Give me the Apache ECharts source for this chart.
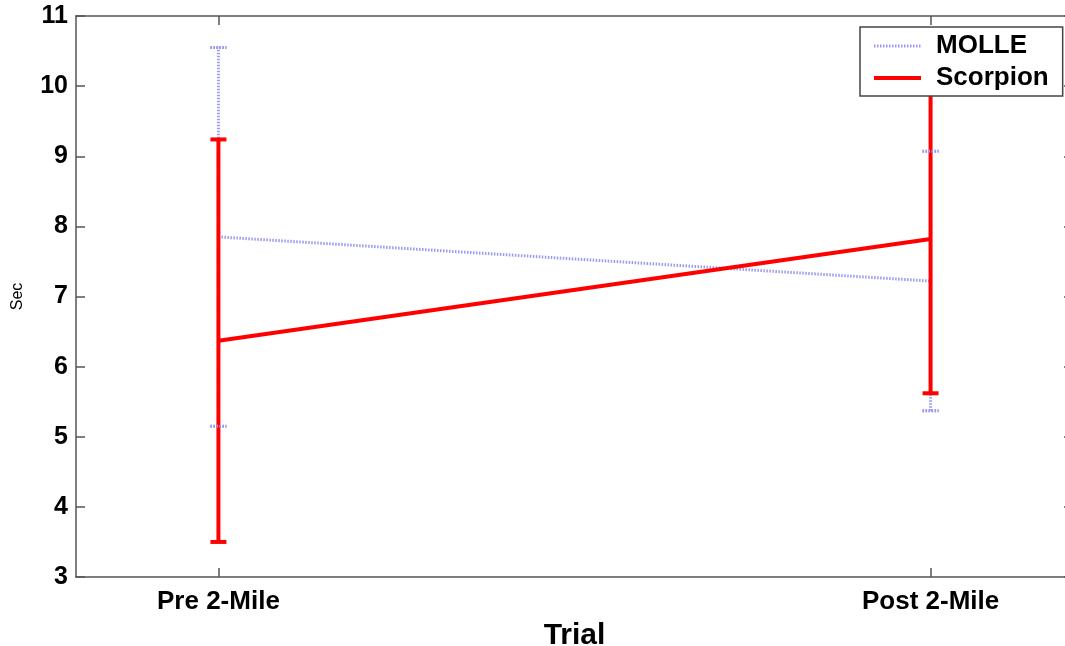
<!DOCTYPE html>
<html>
<head>
<meta charset="utf-8">
<script src="https://cdn.jsdelivr.net/npm/echarts@6/dist/echarts.min.js"></script>
<style>
html, body { margin: 0; padding: 0; background: #fff; }
#chart1 { width: 1065px; height: 646px; }
</style>
</head>
<body>
<div id="chart1"></div>
<script>
// data ---------------------------------------------
var trials = ['Pre 2-Mile', 'Post 2-Mile'];
var trialPos = [1, 2];
var yTicks = [3, 4, 5, 6, 7, 8, 9, 10, 11];

var molleMean = [7.85, 7.22];
var molleErr = [2.70, 1.85];
var scorpionMean = [6.37, 7.82];
var scorpionErr = [2.87, 2.20];

var FONT = '"Liberation Sans", Arial, sans-serif';
var AXIS_COLOR = '#555';

function meanPts(mean) {
    return mean.map(function (v, i) { return [trialPos[i], v]; });
}
function errPts(mean, err) {
    return mean.map(function (v, i) { return [trialPos[i], v - err[i], v + err[i]]; });
}

// draws a vertical bar with caps for each point
function errorBar(style, capHalf, capsOnly) {
    return function (params, api) {
        var x = api.value(0);
        var lo = api.coord([x, api.value(1)]);
        var hi = api.coord([x, api.value(2)]);
        var kids = [
            { type: 'line', shape: { x1: lo[0] - capHalf, y1: lo[1], x2: lo[0] + capHalf, y2: lo[1] }, style: style },
            { type: 'line', shape: { x1: hi[0] - capHalf, y1: hi[1], x2: hi[0] + capHalf, y2: hi[1] }, style: style }
        ];
        if (!capsOnly) {
            kids.push({ type: 'line', shape: { x1: lo[0], y1: lo[1], x2: hi[0], y2: hi[1] }, style: style });
        }
        return { type: 'group', children: kids };
    };
}

var molleStyle = { stroke: '#9a9af2', lineWidth: 3, lineDash: [1.5, 1.5], fill: null };
var scorpionStyle = { stroke: '#ff0000', lineWidth: 4, fill: null };

var myChart = echarts.init(document.getElementById('chart1'));

var option = {
    backgroundColor: '#fff',
    animation: false,
    grid: { left: 76, top: 16, width: 997, bottom: 69, outerBoundsMode: 'none', containLabel: false },
    legend: {
        left: 860,
        top: 27,
        orient: 'vertical',
        backgroundColor: '#fff',
        borderColor: '#444',
        borderWidth: 1.5,
        borderRadius: 0,
        padding: [6, 14, 5, 12],
        itemWidth: 47,
        itemHeight: 14,
        itemGap: 6,
        itemStyle: { opacity: 0 },
        lineStyle: { width: 'inherit' },
        textStyle: { fontFamily: FONT, fontWeight: 'bold', fontSize: 26, color: '#000', padding: [0, 0, 0, 10] },
        data: ['MOLLE', 'Scorpion']
    },
    xAxis: [
        {
            type: 'value',
            min: 0.8,
            max: 2.2,
            name: 'Trial',
            nameLocation: 'middle',
            nameGap: 44,
            nameTextStyle: { fontFamily: FONT, fontWeight: 'bold', fontSize: 30, color: '#000' },
            axisLine: { lineStyle: { color: AXIS_COLOR, width: 1.5 } },
            axisTick: { inside: true, length: 9, customValues: trialPos, lineStyle: { color: AXIS_COLOR, width: 1.5 } },
            axisLabel: {
                customValues: trialPos,
                margin: 12,
                fontFamily: FONT, fontWeight: 'bold', fontSize: 26, color: '#000',
                formatter: function (v) { return trials[trialPos.indexOf(v)] || ''; }
            },
            splitLine: { show: false }
        },
        {
            type: 'value',
            position: 'top',
            min: 0.8,
            max: 2.2,
            axisLine: { lineStyle: { color: AXIS_COLOR, width: 1.5 } },
            axisTick: { inside: true, length: 9, customValues: trialPos, lineStyle: { color: AXIS_COLOR, width: 1.5 } },
            axisLabel: { show: false },
            splitLine: { show: false }
        }
    ],
    yAxis: [
        {
            type: 'value',
            min: 3,
            max: 11,
            interval: 1,
            name: 'Sec',
            nameLocation: 'middle',
            nameGap: 50,
            nameTextStyle: { fontFamily: FONT, fontSize: 16, color: '#000' },
            axisLine: { show: true, lineStyle: { color: AXIS_COLOR, width: 1.5 } },
            axisTick: { show: true, inside: true, length: 9, lineStyle: { color: AXIS_COLOR, width: 1.5 } },
            axisLabel: {
                margin: 8,
                fontFamily: FONT, fontWeight: 'bold', fontSize: 25, color: '#000',
                formatter: function (v) { return yTicks.indexOf(v) >= 0 ? String(v) : ''; }
            },
            splitLine: { show: false }
        },
        {
            type: 'value',
            position: 'right',
            min: 3,
            max: 11,
            interval: 1,
            axisLine: { show: true, lineStyle: { color: AXIS_COLOR, width: 1.5 } },
            axisTick: { show: true, inside: true, length: 9, lineStyle: { color: AXIS_COLOR, width: 1.5 } },
            axisLabel: { show: false },
            splitLine: { show: false }
        }
    ],
    series: [
        {
            name: 'MOLLE',
            type: 'line',
            symbol: 'none',
            data: meanPts(molleMean),
            lineStyle: { color: '#9a9af2', width: 3, type: [1.5, 1.5] },
            itemStyle: { color: '#9a9af2' },
            z: 2
        },
        {
            name: 'MOLLE',
            type: 'custom',
            renderItem: errorBar(molleStyle, 8, false),
            data: errPts(molleMean, molleErr),
            encode: { x: 0, y: [1, 2] },
            z: 2
        },
        {
            name: 'Scorpion',
            type: 'line',
            symbol: 'none',
            data: meanPts(scorpionMean),
            lineStyle: { color: '#ff0000', width: 4 },
            itemStyle: { color: '#ff0000' },
            z: 3
        },
        {
            name: 'Scorpion',
            type: 'custom',
            renderItem: errorBar(scorpionStyle, 8, false),
            data: errPts(scorpionMean, scorpionErr),
            encode: { x: 0, y: [1, 2] },
            z: 3
        },
        {
            // molle caps again so they show over the red bar
            name: 'MOLLE',
            type: 'custom',
            renderItem: errorBar(molleStyle, 8, true),
            data: errPts(molleMean, molleErr),
            encode: { x: 0, y: [1, 2] },
            z: 4
        }
    ]
};

myChart.setOption(option);
</script>
</body>
</html>
